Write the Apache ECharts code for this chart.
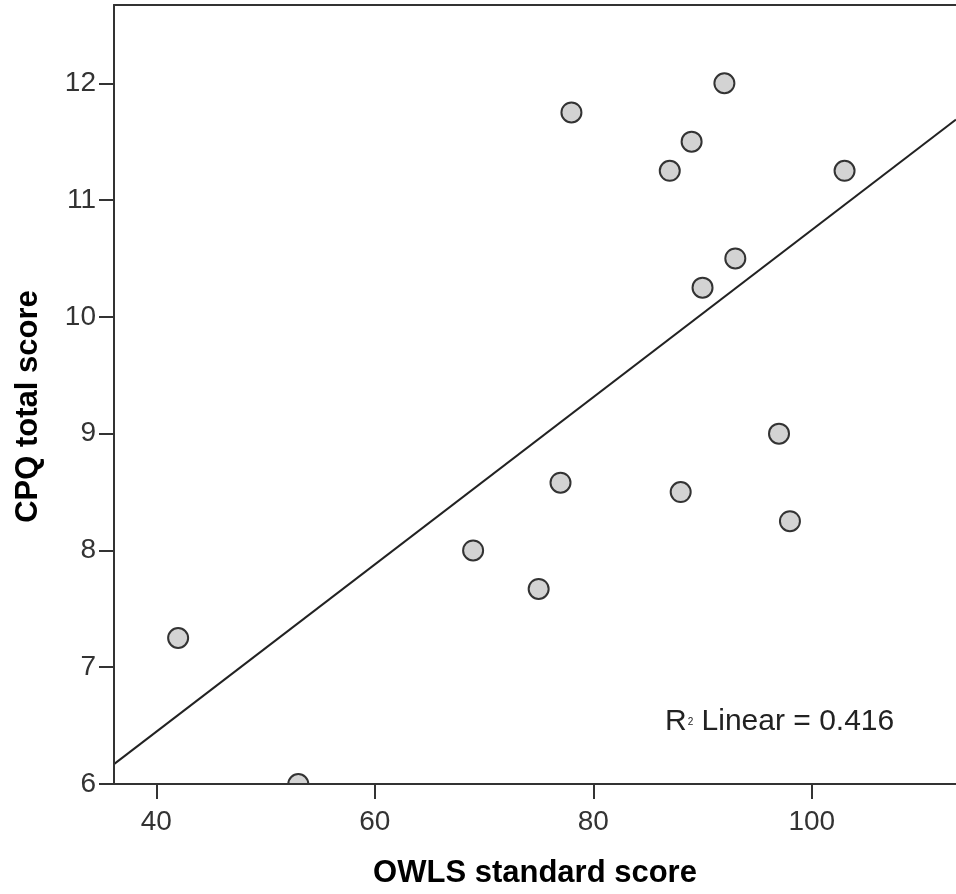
<!DOCTYPE html>
<html>
<head>
<meta charset="utf-8">
<script src="https://cdn.jsdelivr.net/npm/echarts@6/dist/echarts.min.js"></script>
<style>
  html, body { margin: 0; padding: 0; background: #fff; }
  #owlsChart { width: 956px; height: 894px; }
</style>
</head>
<body>
<div id="owlsChart"></div>
<script>
// OWLS standard score (x) vs CPQ total score (y)
var owlsScore = [42, 53, 69, 75, 77, 78, 87, 88, 89, 90, 92, 93, 97, 98, 103];
var cpqScore = [7.25, 6, 8, 7.67, 8.58, 11.75, 11.25, 8.5, 11.5, 10.25, 12, 10.5, 9, 8.25, 11.25];

// fit line end points
var fitX = [36.13, 113.2];
var fitY = [6.17, 11.69];

var xTicks = [40, 60, 80, 100];
var yTicks = [6, 7, 8, 9, 10, 11, 12];

var xRange = [36.13, 113.2];
var yRange = [6, 12.67];

var r2Text = "0.416";

function genChart() {
    var dom = document.getElementById("owlsChart");
    var chart = echarts.getInstanceByDom(dom);
    if (!chart) { chart = echarts.init(dom); }

    var points = owlsScore.map(function(v, i) { return [v, cpqScore[i]]; });
    var fitLine = fitX.map(function(v, i) { return [v, fitY[i]]; });

    var axisFont = {
        fontFamily: 'Liberation Sans, Arial, sans-serif',
        fontSize: 28,
        color: '#333'
    };

    var option = {
        animation: false,
        backgroundColor: '#fff',
        grid: {
            left: 114,
            right: 0,
            top: 5,
            bottom: 110
        },
        xAxis: [{
            type: 'value',
            min: xRange[0],
            max: xRange[1],
            z: 10,
            name: 'OWLS standard score',
            nameLocation: 'middle',
            nameGap: 74,
            nameTextStyle: {
                fontFamily: 'Liberation Sans, Arial, sans-serif',
                fontSize: 31,
                fontWeight: 'bold',
                color: '#000'
            },
            axisLine: { show: true, onZero: false, lineStyle: { color: '#333', width: 2 } },
            axisTick: { show: true, length: 15, customValues: xTicks, lineStyle: { color: '#333', width: 2 } },
            axisLabel: Object.assign({ margin: 24, customValues: xTicks }, axisFont),
            splitLine: { show: false }
        }, {
            type: 'value',
            position: 'top',
            min: xRange[0],
            max: xRange[1],
            z: 10,
            axisLine: { show: true, onZero: false, lineStyle: { color: '#333', width: 2 } },
            axisTick: { show: false },
            axisLabel: { show: false },
            splitLine: { show: false }
        }],
        yAxis: {
            type: 'value',
            min: yRange[0],
            max: yRange[1],
            z: 10,
            name: 'CPQ total score',
            nameLocation: 'middle',
            nameRotate: 90,
            nameGap: 70,
            nameTextStyle: {
                fontFamily: 'Liberation Sans, Arial, sans-serif',
                fontSize: 31,
                fontWeight: 'bold',
                color: '#000',
                padding: [0, 24, 0, 0]
            },
            axisLine: { show: true, onZero: false, lineStyle: { color: '#333', width: 2 } },
            axisTick: { show: true, length: 15, customValues: yTicks, lineStyle: { color: '#333', width: 2 } },
            axisLabel: Object.assign({ margin: 18, customValues: yTicks }, axisFont),
            splitLine: { show: false }
        },
        graphic: [{
            type: 'text',
            left: 665,
            top: 707,
            style: {
                text: 'R{s|2} Linear = ' + r2Text,
                font: '30px Liberation Sans, Arial, sans-serif',
                fill: '#222',
                rich: {
                    s: { fontSize: 10, fontFamily: 'Liberation Sans, Arial, sans-serif', fill: '#222', padding: [0, 0, 0, 1] }
                }
            }
        }],
        series: [{
            name: 'Linear',
            type: 'line',
            data: fitLine,
            showSymbol: false,
            silent: true,
            z: 2,
            lineStyle: { color: '#222', width: 2 }
        }, {
            // custom circles so the point on the x axis is cut by the plot area
            name: 'Score',
            type: 'custom',
            data: points,
            clip: true,
            z: 3,
            renderItem: function(params, api) {
                var p = api.coord([api.value(0), api.value(1)]);
                return {
                    type: 'circle',
                    shape: { cx: p[0], cy: p[1], r: 10 },
                    style: { fill: '#d3d3d3', stroke: '#333', lineWidth: 2 }
                };
            }
        }]
    };

    chart.clear();
    chart.setOption(option);
}

genChart();
</script>
</body>
</html>
